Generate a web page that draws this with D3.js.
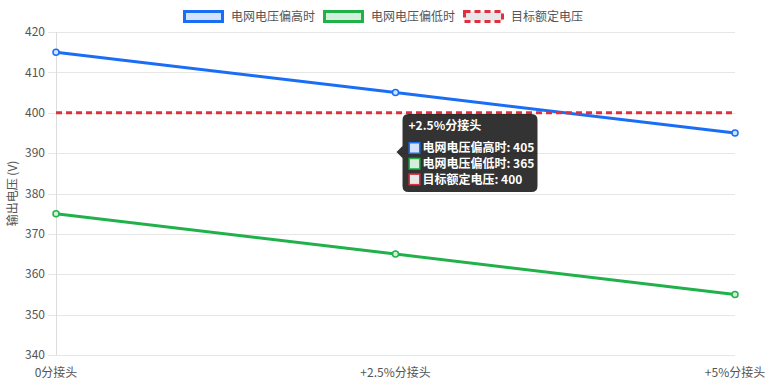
<!DOCTYPE html>
<html>
<head>
<meta charset="utf-8">
<script src="https://cdn.jsdelivr.net/npm/d3@7"></script>
<style>
  html, body { margin: 0; padding: 0; background: #fff; }
  svg { display: block; font-family: "Noto Sans CJK SC", "Noto Sans", sans-serif; }
</style>
</head>
<body>
<svg id="chart" width="768" height="384"></svg>
<script>
// Tap positions along the x axis
const categories = ["0分接头", "+2.5%分接头", "+5%分接头"];
// Output voltage when grid voltage is high / low, and the rated target
const highValues = [415, 405, 395];
const lowValues = [375, 365, 355];
const targetValues = [400, 400, 400];
const yTicks = [340, 350, 360, 370, 380, 390, 400, 410, 420];

const seriesNames = ["电网电压偏高时", "电网电压偏低时", "目标额定电压"];
const yTitle = "输出电压 (V)";
const hoverIndex = 1;

const series = [
  { name: seriesNames[0], values: highValues, stroke: "#1a6ef5", fill: "#d4e3fc", dash: null, points: true },
  { name: seriesNames[1], values: lowValues, stroke: "#21b14a", fill: "#d2efd9", dash: null, points: true },
  { name: seriesNames[2], values: targetValues, stroke: "#e0303f", fill: "#e8e8e8", dash: "6,4", points: false }
];

const svg = d3.select("#chart");
const margin = { left: 56, right: 33, top: 32, bottom: 29 };
const W = 768, H = 384;

const x = d3.scalePoint().domain(categories).range([margin.left, W - margin.right]);
const y = d3.scaleLinear().domain([340, 420]).range([H - margin.bottom, margin.top]);

// Horizontal grid lines with short tick marks on the left
const grid = svg.append("g");
grid.selectAll("line").data(yTicks).join("line")
  .attr("x1", margin.left - 8).attr("x2", W - margin.right)
  .attr("y1", d => Math.round(y(d)) + 0.5).attr("y2", d => Math.round(y(d)) + 0.5)
  .attr("stroke", "#e6e6e6").attr("stroke-width", 1);

// Left axis line
svg.append("line")
  .attr("x1", margin.left + 0.5).attr("x2", margin.left + 0.5)
  .attr("y1", margin.top).attr("y2", H - margin.bottom)
  .attr("stroke", "#dcdcdc").attr("stroke-width", 1);

// Y tick labels
svg.append("g").selectAll("text").data(yTicks).join("text")
  .attr("x", margin.left - 11).attr("y", d => y(d))
  .attr("dy", "0.35em").attr("text-anchor", "end")
  .attr("font-size", 12).attr("fill", "#555")
  .text(d => d);

// X tick labels
svg.append("g").selectAll("text").data(categories).join("text")
  .attr("x", d => x(d)).attr("y", H - margin.bottom + 18)
  .attr("dy", "0.35em").attr("text-anchor", "middle")
  .attr("font-size", 12).attr("fill", "#555")
  .text(d => d);

// Y axis title
svg.append("text")
  .attr("transform", `translate(13,${(margin.top + H - margin.bottom) / 2}) rotate(-90)`)
  .attr("text-anchor", "middle").attr("dy", "0.35em")
  .attr("font-size", 12).attr("fill", "#555")
  .text(yTitle);

// Series lines and points
const line = d3.line().x((d, i) => x(categories[i])).y(d => y(d));
series.forEach(s => {
  svg.append("path")
    .attr("d", line(s.values))
    .attr("fill", "none")
    .attr("stroke", s.stroke)
    .attr("stroke-width", 3)
    .attr("stroke-dasharray", s.dash);
  if (s.points) {
    svg.append("g").selectAll("circle").data(s.values).join("circle")
      .attr("cx", (d, i) => x(categories[i])).attr("cy", d => y(d))
      .attr("r", 3)
      .attr("fill", s.fill).attr("stroke", s.stroke).attr("stroke-width", 1.5);
  }
});

// Legend
const legendItems = [
  { x: 183, s: series[0] },
  { x: 323, s: series[1] },
  { x: 463, s: series[2] }
];
const legend = svg.append("g");
legendItems.forEach(it => {
  legend.append("rect")
    .attr("x", it.x + 1.5).attr("y", 11.5).attr("width", 38).attr("height", 10)
    .attr("fill", it.s.fill).attr("stroke", it.s.stroke).attr("stroke-width", 3)
    .attr("stroke-dasharray", it.s.dash);
  legend.append("text")
    .attr("x", it.x + 48).attr("y", 17).attr("dy", "0.35em")
    .attr("font-size", 12).attr("fill", "#555")
    .text(it.s.name);
});

// Tooltip for the hovered tap position
const tx = x(categories[hoverIndex]);
const tip = svg.append("g");
const bx = tx + 7, by = 114, bw = 135, bh = 78, r = 6;
const caretY = 152;
const tipPath = d3.path();
tipPath.moveTo(bx + r, by);
tipPath.lineTo(bx + bw - r, by);
tipPath.quadraticCurveTo(bx + bw, by, bx + bw, by + r);
tipPath.lineTo(bx + bw, by + bh - r);
tipPath.quadraticCurveTo(bx + bw, by + bh, bx + bw - r, by + bh);
tipPath.lineTo(bx + r, by + bh);
tipPath.quadraticCurveTo(bx, by + bh, bx, by + bh - r);
tipPath.lineTo(bx, caretY + 6);
tipPath.lineTo(bx - 6, caretY);
tipPath.lineTo(bx, caretY - 6);
tipPath.lineTo(bx, by + r);
tipPath.quadraticCurveTo(bx, by, bx + r, by);
tipPath.closePath();
tip.append("path").attr("d", tipPath.toString()).attr("fill", "rgba(0,0,0,0.8)");

tip.append("text")
  .attr("x", bx + 6).attr("y", by + 12).attr("dy", "0.35em")
  .attr("font-size", 12).attr("font-weight", "bold").attr("fill", "#fff")
  .text(categories[hoverIndex]);

series.forEach((s, i) => {
  const rowY = by + 34 + i * 15.7;
  tip.append("rect")
    .attr("x", bx + 6.75).attr("y", rowY - 5.25).attr("width", 10.5).attr("height", 10.5)
    .attr("fill", s.fill).attr("stroke", s.stroke).attr("stroke-width", 1.5);
  tip.append("text")
    .attr("x", bx + 20).attr("y", rowY).attr("dy", "0.35em")
    .attr("font-size", 12).attr("font-weight", 600).attr("fill", "#fff")
    .text(`${s.name}: ${s.values[hoverIndex]}`);
});
</script>
</body>
</html>
